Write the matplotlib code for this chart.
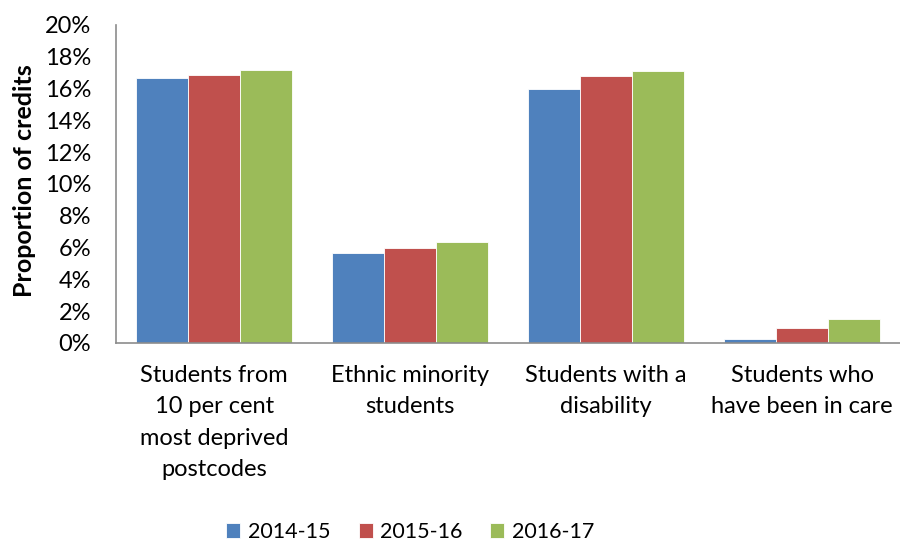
import numpy as np
import matplotlib
matplotlib.use("Agg")
from matplotlib import pyplot as plt

plt.rcParams['font.family'] = ['Lato', 'DejaVu Sans']

categories = ["Students from\n10 per cent\nmost deprived\npostcodes",
              "Ethnic minority\nstudents",
              "Students with a\ndisability",
              "Students who\nhave been in care"]
years = ["2014-15", "2015-16", "2016-17"]
v2014 = [16.68, 5.64, 15.96, 0.25]
v2015 = [16.87, 5.95, 16.78, 0.94]
v2016 = [17.16, 6.35, 17.08, 1.53]
colors = ["#4f81bd", "#c0504d", "#9bbb59"]

fig = plt.figure(figsize=(9, 5.41), dpi=100)
ax = fig.add_axes([0.129, 0.366, 0.871, 0.588])

x = np.arange(len(categories))
w = 0.8 / 3
for i, (vals, lab) in enumerate(zip([v2014, v2015, v2016], years)):
    ax.bar(x + (i - 1) * w, np.array(vals) / 100, w, color=colors[i],
           label=lab, edgecolor="white", linewidth=0.6)

ax.set_xlim(-0.5, 3.5)
ax.set_ylim(0, 0.2)
ticks = np.arange(0, 0.201, 0.02)
ax.set_yticks(ticks)
ax.set_yticklabels([f"{int(round(t * 100))}%" for t in ticks])
ax.set_xticks(x)
ax.set_xticklabels(categories, linespacing=1.6, va="top")
ax.tick_params(axis="both", length=0, labelsize=17, colors="black")
ax.tick_params(axis="x", pad=16)
ax.tick_params(axis="y", pad=18)

for s in ["top", "right"]:
    ax.spines[s].set_visible(False)
for s in ["left", "bottom"]:
    ax.spines[s].set_color("#8c8c8c")
    ax.spines[s].set_linewidth(1.2)

fig.text(0.027, 0.667, "Proportion of credits", rotation=90, fontsize=18,
         fontweight="bold", ha="center", va="center")

fig.legend(loc="lower center", bbox_to_anchor=(0.456, -0.038), ncol=3, frameon=False,
           fontsize=15.5, handlelength=0.65, handleheight=0.65, handletextpad=0.35,
           columnspacing=1.3)

fig.savefig("out.png", dpi=100)
